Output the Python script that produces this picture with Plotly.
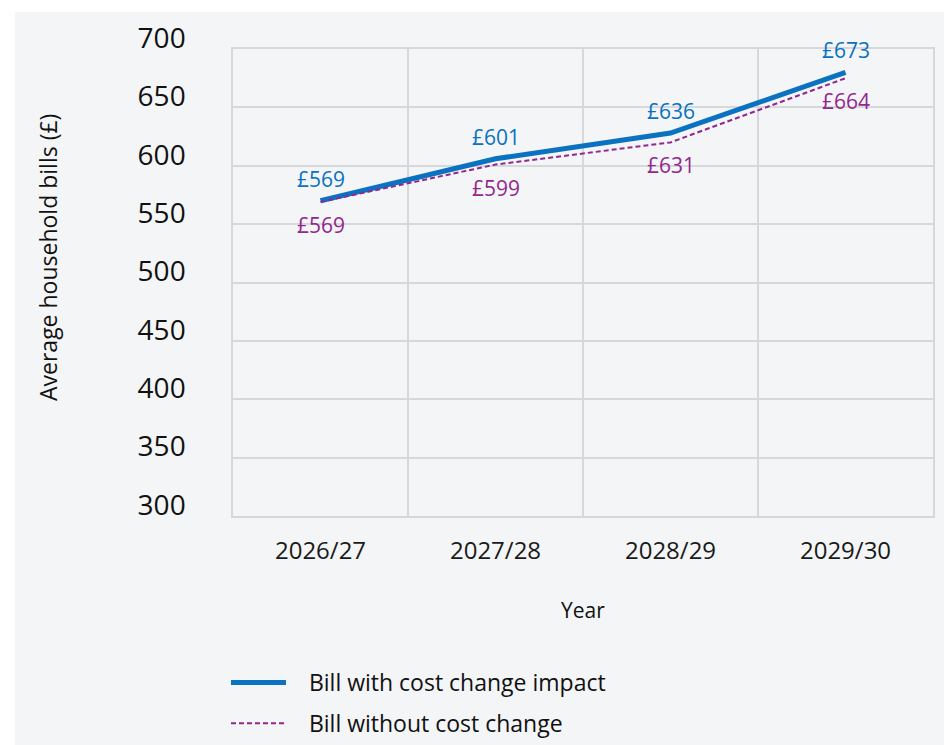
import plotly.graph_objects as go

years = ["2026/27", "2027/28", "2028/29", "2029/30"]
with_impact = [570, 606, 628, 680]
without_change = [569, 601, 620, 675]
with_labels = ["£569", "£601", "£636", "£673"]
without_labels = ["£569", "£599", "£631", "£664"]
y_ticks = [300, 350, 400, 450, 500, 550, 600, 650, 700]
series_names = ["Bill with cost change impact", "Bill without cost change"]

BLUE = "#0a72c0"
PURPLE = "#92278f"
BG = "#f4f5f7"
GRID = "#d7d8dc"
FONT = "Open Sans"

W, H = 944, 745
L, R, T, B = 233, 11, 49, 229
pw, ph = W - L - R, H - T - B

def px_x(p):
    return (p - L) / pw

def px_y(p):
    return (H - B - p) / ph

PAD = "\u00a0\u00a0\u00a0"

fig = go.Figure()
fig.add_trace(go.Scatter(
    x=years, y=with_impact, mode="lines", name=PAD + series_names[0],
    line=dict(color=BLUE, width=5), legendgroup="a"))
fig.add_trace(go.Scatter(
    x=years, y=without_change, mode="lines", name=PAD + series_names[1],
    line=dict(color=PURPLE, width=2, dash="5px,3px"), legendgroup="b"))

annotations = []
for yr, v, t in zip(years, with_impact, with_labels):
    annotations.append(dict(x=yr, y=v, xref="x", yref="y", text=t, showarrow=False,
                            yshift=22, font=dict(family=FONT, size=21, color=BLUE)))
for yr, v, t in zip(years, without_change, without_labels):
    annotations.append(dict(x=yr, y=v, xref="x", yref="y", text=t, showarrow=False,
                            yshift=-23, font=dict(family=FONT, size=21, color=PURPLE)))
annotations.append(dict(x=px_x(48), y=px_y(258), xref="paper", yref="paper",
                        text="Average household bills (£)", textangle=-90, showarrow=False,
                        xanchor="center", yanchor="middle",
                        font=dict(family=FONT, size=23, color="#111111")))
annotations.append(dict(x=0.5, y=px_y(610), xref="paper", yref="paper",
                        text="Year", showarrow=False, xanchor="center", yanchor="middle",
                        font=dict(family=FONT, size=21, color="#111111")))

fig.update_layout(
    width=W, height=H,
    margin=dict(l=L, r=R, t=T, b=B, autoexpand=False),
    paper_bgcolor="white",
    plot_bgcolor=BG,
    font=dict(family=FONT, color="#111111"),
    shapes=[dict(type="rect", xref="paper", yref="paper", x0=px_x(15), x1=1.2,
                 y0=-0.7, y1=px_y(12), fillcolor=BG, line=dict(width=0), layer="below")],
    annotations=annotations,
    showlegend=True,
    legend=dict(x=px_x(226), y=px_y(661), xanchor="left", yanchor="top",
                font=dict(family=FONT, size=23, color="#111111"),
                bgcolor="rgba(0,0,0,0)", traceorder="grouped", tracegroupgap=8,
                itemwidth=55),
)
fig.update_xaxes(
    type="category", range=[-0.5, 3.5], tickson="boundaries",
    showgrid=True, gridcolor=GRID, gridwidth=1.5, zeroline=False,
    showline=True, linecolor=GRID, linewidth=1.5, mirror=True,
    ticks="", ticklabelstandoff=12,
    tickfont=dict(family=FONT, size=24, color="#1a1a1a"),
)
fig.update_yaxes(
    range=[300, 700], tickvals=y_ticks, showgrid=True, gridcolor=GRID, gridwidth=1.5,
    zeroline=False, showline=True, linecolor=GRID, linewidth=1.5, mirror=True,
    ticks="", ticklabelstandoff=40, ticklabelshift=-11,
    tickfont=dict(family=FONT, size=28, color="#111111"),
)
fig.write_html("out.html")
